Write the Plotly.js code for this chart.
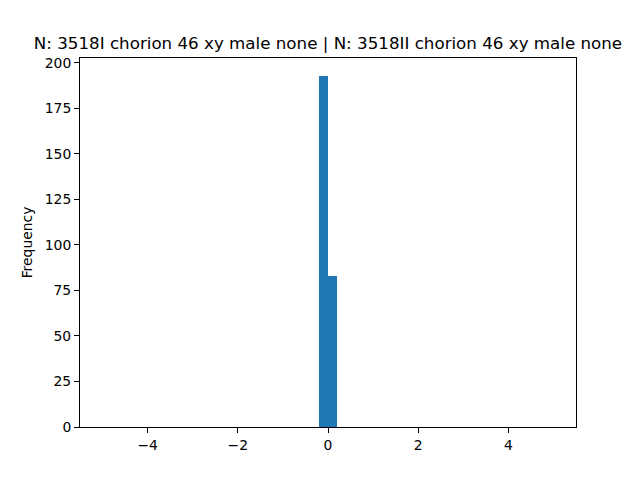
<!DOCTYPE html>
<html>
<head>
<meta charset="utf-8">
<script src="https://cdn.plot.ly/plotly-3.0.1.min.js"></script>
<style>html,body{margin:0;padding:0;background:#fff;}#chart{width:640px;height:480px;}</style>
</head>
<body>
<div id="chart"></div>
<script>
// Histogram bins (bin width 0.2) and counts
const binCenters = [-0.1, 0.1];
const counts = [193, 83];
const binWidth = 0.2;
const xTicks = [-4, -2, 0, 2, 4];
const yTicks = [0, 25, 50, 75, 100, 125, 150, 175, 200];
const titleText = "N: 3518I chorion 46 xy male none | N: 3518II chorion 46 xy male none";

const font = "DejaVu Sans, sans-serif";
const trace = {
  type: "bar",
  x: binCenters,
  y: counts,
  width: binCenters.map(() => binWidth),
  marker: {color: "#1f77b4", line: {width: 0}},
  hoverinfo: "x+y"
};
const layout = {
  width: 640, height: 480,
  margin: {l: 80, r: 64, t: 58, b: 53},
  paper_bgcolor: "#fff", plot_bgcolor: "#fff",
  showlegend: false,
  bargap: 0,
  font: {family: font, color: "#000", size: 13.9},
  title: {text: titleText, font: {family: font, size: 16.7, color: "#000"},
          x: 0.5125, xanchor: "center", y: 1 - 43/480, yanchor: "middle"},
  xaxis: {range: [-5.5, 5.5], tickvals: xTicks, ticktext: xTicks.map(v => v < 0 ? "\u2212" + Math.abs(v) : String(v)),
          showgrid: false, zeroline: false, showline: true, linecolor: "#000", linewidth: 1, mirror: true,
          ticks: "outside", ticklen: 5, tickwidth: 1, tickcolor: "#000", tickfont: {size: 13.9}},
  yaxis: {range: [0, 202.65], tickvals: yTicks,
          showgrid: false, zeroline: false, showline: true, linecolor: "#000", linewidth: 1, mirror: true,
          ticks: "outside", ticklen: 5, tickwidth: 1, tickcolor: "#000", tickfont: {size: 13.9},
          title: {text: "Frequency", font: {size: 13.9}, standoff: 8}}
};
Plotly.newPlot("chart", [trace], layout, {displayModeBar: false, staticPlot: true});
</script>
</body>
</html>
